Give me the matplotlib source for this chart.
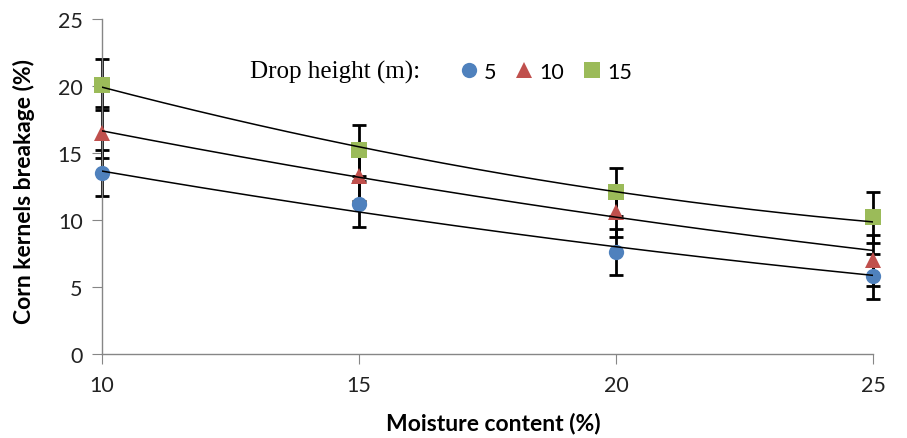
import numpy as np
import matplotlib
matplotlib.use("Agg")
import matplotlib.pyplot as plt

# data
moisture = [10, 15, 20, 25]
heights = ["5", "10", "15"]
breakage_5 = [13.5, 11.2, 7.6, 5.8]
breakage_10 = [16.5, 13.3, 10.6, 7.0]
breakage_15 = [20.1, 15.2, 12.1, 10.2]
err_5 = [1.7, 1.7, 1.7, 1.7]
err_10 = [1.9, 1.9, 1.9, 1.9]
err_15 = [1.9, 1.9, 1.8, 1.9]
# trendline values read at each moisture level
trend_5 = [13.65, 10.6, 8.0, 5.87]
trend_10 = [16.65, 13.2, 10.2, 7.73]
trend_15 = [19.9, 15.5, 12.07, 9.87]

colors = ["#4F81BD", "#C0504D", "#9BBB59"]
markers = ["o", "^", "s"]
sizes = [11, 11, 11]

fig = plt.figure(figsize=(9.07, 4.39), dpi=100)
ax = fig.add_axes([102 / 907, 1 - 355 / 439, (873 - 102) / 907, (355 - 20) / 439])

x = np.array(moisture, dtype=float)
series = [breakage_5, breakage_10, breakage_15]
errs = [err_5, err_10, err_15]
trends = [trend_5, trend_10, trend_15]

handles = []
for ys, er, tr, c, m, s in zip(series, errs, trends, colors, markers, sizes):
    ax.errorbar(x, ys, yerr=er, fmt="none", ecolor="black", elinewidth=2,
                capsize=5, capthick=2, zorder=2, clip_on=False)
    h, = ax.plot(x, ys, linestyle="none", marker=m, color=c, markersize=s,
                 markeredgewidth=0, zorder=3, clip_on=False)
    handles.append(h)
    # smooth trendline through the read values
    coef = np.polyfit(x, tr, 2)
    xx = np.linspace(10, 25, 200)
    ax.plot(xx, np.polyval(coef, xx), color="black", linewidth=1.1, zorder=4)

ax.set_xlim(10, 25)
ax.set_ylim(0, 25)
ax.set_xticks([10, 15, 20, 25])
ax.set_yticks([0, 5, 10, 15, 20, 25])

for side in ["top", "right"]:
    ax.spines[side].set_visible(False)
for side in ["left", "bottom"]:
    ax.spines[side].set_color("#868686")
    ax.spines[side].set_linewidth(1)
ax.tick_params(axis="both", direction="out", length=7, color="#868686",
               labelsize=15.5, labelcolor="#222222")
for lab in ax.get_xticklabels() + ax.get_yticklabels():
    lab.set_family("Lato")
ax.tick_params(axis="x", pad=8)
ax.tick_params(axis="y", pad=7)

ax.set_xlabel("Moisture content (%)", fontsize=16.5, fontweight="bold",
              family="Lato")
ax.set_ylabel("Corn kernels breakage (%)", fontsize=16.5, fontweight="bold",
              family="Lato")
ax.xaxis.set_label_coords((493 - 102) / 771, -(424 - 355) / 335)
ax.yaxis.set_label_coords(-(102 - 24) / 771, (355 - 192) / 335)
ax.xaxis.label.set_va("center")
ax.yaxis.label.set_va("center")

fig.text(250 / 907, 1 - 72 / 439, "Drop height (m):", family="Liberation Serif",
         fontsize=18, va="center", ha="left")
leg = ax.legend(handles, heights, loc="center left",
                bbox_to_anchor=(460 / 907, 1 - 73 / 439),
                bbox_transform=fig.transFigure, ncol=3, frameon=False,
                handlelength=0.8, handletextpad=0.3, columnspacing=0.9,
                prop={"family": "Lato", "size": 15.5}, borderaxespad=0,
                borderpad=0)

fig.savefig("out.png", dpi=100)
